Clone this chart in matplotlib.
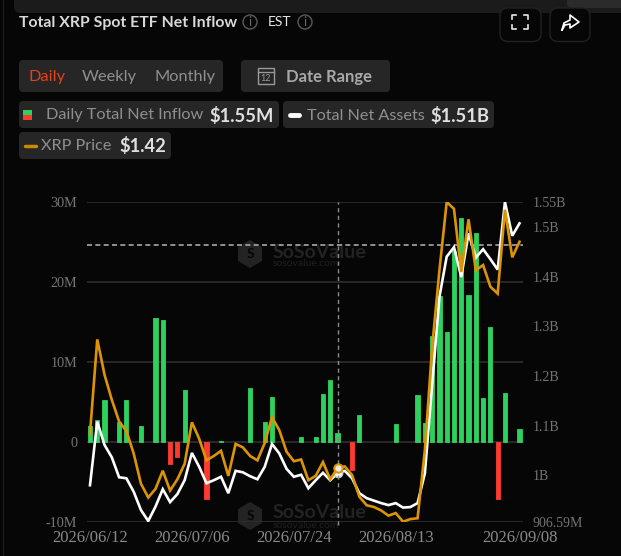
import matplotlib as mpl
mpl.use('Agg')

import matplotlib.pyplot as plt
from matplotlib.patches import FancyBboxPatch, Circle, Polygon, Rectangle

# values
flows = [2.0, 2.75, 5.25, 0, 2.5, 5.25, 0, 2.0, 0, 15.5, 15.2, -2.8, -1.85, 6.5, 0,
         0, -7.2, 0, 0.1, 0, 0, 0, 6.75, 0, 2.5, 5.6, 0, 0, 0, 0.6,
         0, 0.6, 6.0, 7.7, 1.1, 0, -3.5, 3.4, 0, 0, 0, 0, 2.25, 0, 0,
         5.8, 2.3, 13.2, 18.25, 13.75, 23.9, 28.0, 18.4, 26.1, 5.5, 14.3, -7.15, 6.1, 0, 1.55]
assets = [0.980, 1.108, 1.061, 1.036, 0.996, 0.994, 0.967, 0.930, 0.908, 0.937, 0.972, 0.946,
          0.962, 0.990, 1.045, 1.017, 0.984, 0.990, 0.997, 0.964, 1.009, 1.006, 0.998, 0.992,
          1.017, 1.063, 1.044, 1.013, 0.997, 1.001, 0.974, 0.990, 1.005, 0.990, 1.004, 1.009,
          0.994, 0.964, 0.954, 0.949, 0.944, 0.940, 0.944, 0.935, 0.936, 0.944, 1.004, 1.182,
          1.359, 1.440, 1.459, 1.399, 1.487, 1.438, 1.455, 1.435, 1.414, 1.550, 1.482, 1.507]
price = [1.202, 1.311, 1.270, 1.241, 1.216, 1.205, 1.179, 1.144, 1.128, 1.138, 1.159, 1.136,
         1.149, 1.167, 1.215, 1.196, 1.171, 1.176, 1.182, 1.153, 1.190, 1.186, 1.176, 1.171,
         1.191, 1.221, 1.206, 1.181, 1.170, 1.172, 1.148, 1.153, 1.169, 1.149, 1.162, 1.164,
         1.154, 1.129, 1.119, 1.117, 1.113, 1.107, 1.110, 1.100, 1.103, 1.104, 1.183, 1.302,
         1.391, 1.470, 1.462, 1.389, 1.450, 1.391, 1.397, 1.372, 1.364, 1.461, 1.406, 1.424]
date_ticks = [0, 14, 28, 42, 59]
date_labels = ['2026/06/12', '2026/07/06', '2026/07/24', '2026/08/13', '2026/09/08']
left_ticks = [-10, 0, 10, 20, 30]
left_labels = ['-10M', '0', '10M', '20M', '30M']
right_ticks = [0.90659, 1.0, 1.1, 1.2, 1.3, 1.4, 1.5, 1.55]
right_labels = ['906.59M', '1B', '1.1B', '1.2B', '1.3B', '1.4B', '1.5B', '1.55B']
hover_idx = 34

W, H = 621, 556
BG = '#060606'
GREEN = '#2ed15d'
RED = '#ff3b30'
ORANGE = '#dc9404'
CHIP = '#262626'
SERIF = 'Liberation Serif'
plt.rcParams['font.family'] = ['Lato', 'DejaVu Sans']

fig = plt.figure(figsize=(W / 100, H / 100), dpi=100, facecolor=BG)

# overlay in pixel coordinates for the page furniture
ui = fig.add_axes([0, 0, 1, 1], zorder=0)
ui.set_xlim(0, W)
ui.set_ylim(H, 0)
ui.axis('off')


def box(x0, y0, x1, y1, color, r=4, edge='none'):
    ui.add_patch(FancyBboxPatch((x0 + r, y0 + r), x1 - x0 - 2 * r, y1 - y0 - 2 * r,
                                boxstyle='round,pad=%d,rounding_size=%d' % (r, r),
                                fc=color, ec=edge, lw=1))


def info(x, y):
    ui.add_patch(Circle((x, y), 7, fc='none', ec='#5a5a5a', lw=1))
    ui.text(x, y, 'i', color='#6a6a6a', fontsize=9, ha='center', va='center')


ui.plot([3, 3], [0, H], color='#1a1a1a', lw=1)
box(14, -10, W + 10, 13, '#1b1b1b', r=6)
box(567, -10, W + 10, 8, '#2b2b2b', r=5)

ui.text(19, 22.5, 'Total XRP Spot ETF Net Inflow', color='#d8d8d8', fontsize=11.4, weight='bold', va='center')
info(250, 22)
ui.text(268, 22.5, 'EST', color='#e8e8e8', fontsize=10, va='center')
info(305, 22)

box(500, 8, 541, 41.5, BG, r=8, edge='#222222')
box(550, 8, 590, 41.5, BG, r=8, edge='#222222')
for sx, sy in [(-1, -1), (1, -1), (-1, 1), (1, 1)]:
    cx, cy = 520 + sx * 8, 22 + sy * 7
    ui.plot([cx - sx * 4, cx, cx], [cy, cy, cy - sy * 4], color='#e8e8e8', lw=1.2)
ui.plot([562, 564, 570, 570, 579, 570, 570, 565, 562], [30, 23, 20, 15, 22, 28, 24, 25, 30], color='white', lw=1.2)

box(19, 60, 223, 92, CHIP)
box(241, 60, 390, 92, CHIP)
ui.text(28, 77, 'Daily', color='#e2411f', fontsize=11.8, va='center')
ui.text(82, 77, 'Weekly', color='#8f8f8f', fontsize=11.8, va='center')
ui.text(154, 77, 'Monthly', color='#8f8f8f', fontsize=11.8, va='center')
ui.add_patch(Rectangle((258, 68), 16, 16, fc='none', ec='#9a9a9a', lw=1))
ui.plot([258, 274], [72, 72], color='#9a9a9a', lw=1)
ui.text(266, 78.5, '12', color='#9a9a9a', fontsize=6.5, ha='center', va='center')
ui.text(286, 77, 'Date Range', color='#a8a8a8', fontsize=12, weight='bold', va='center')

box(19, 101, 279, 128, CHIP)
box(283, 101, 494, 128, CHIP)
box(19, 132, 171, 159, CHIP)
ui.add_patch(Rectangle((23, 110), 9, 5, fc=GREEN))
ui.add_patch(Rectangle((23, 115), 9, 5, fc=RED))
ui.text(46, 115.5, 'Daily Total Net Inflow', color='#8f8f8f', fontsize=11.7, va='center')
ui.text(209, 115.5, '$1.55M', color='#e0e0e0', fontsize=13.2, weight='bold', va='center')
ui.plot([290, 299], [114.5, 114.5], color='white', lw=3.5, solid_capstyle='round')
ui.text(307, 115.5, 'Total Net Assets', color='#8f8f8f', fontsize=11.7, va='center')
ui.text(430, 115.5, '$1.51B', color='#e0e0e0', fontsize=13.2, weight='bold', va='center')
ui.plot([25, 36], [145.5, 145.5], color='#c98a08', lw=2.5, solid_capstyle='round')
ui.text(41, 146.5, 'XRP Price', color='#8f8f8f', fontsize=11.7, va='center')
ui.text(119, 146.5, '$1.42', color='#e0e0e0', fontsize=13.2, weight='bold', va='center')

# watermarks
for lx, ly, ty in [(250, 254, 252), (250, 516, 513)]:
    ui.add_patch(Polygon([(lx, ly - 14), (lx + 12, ly - 7), (lx + 12, ly + 7), (lx, ly + 14),
                          (lx - 12, ly + 7), (lx - 12, ly - 7)], fc='#232323', ec='none'))
    ui.text(lx, ly, 'S', color=BG, fontsize=10, weight='bold', ha='center', va='center')
    ui.text(273, ty, 'SoSoValue', color='#232323', fontsize=14, weight='bold', va='center')
    ui.text(273, ty + 12, 'sosovalue.com', color='#1f1f1f', fontsize=7.5, va='center')

# flows on the left scale
ax = fig.add_axes([87 / W, 1 - 521.7 / H, (523 - 87) / W, (521.7 - 202) / H], zorder=1)
ax.patch.set_alpha(0)
xs = list(range(len(flows)))
ax.set_xlim(-0.41, 59.48)
ax.set_ylim(-10, 30)
for t in left_ticks:
    ax.axhline(t, color='#2e2e2e', lw=1.2, zorder=0)
for x, v in zip(xs, flows):
    if v != 0:
        ax.bar(x, v, width=0.58, color=GREEN if v > 0 else RED, edgecolor=GREEN if v > 0 else RED,
               linewidth=0.6, zorder=2)
for s in ax.spines.values():
    s.set_visible(False)
ax.set_xticks(date_ticks, date_labels, fontfamily=SERIF, fontsize=12, color='#8a8a8a')
ax.set_yticks(left_ticks, left_labels, fontfamily=SERIF, fontsize=10.2, color='#757575')
for lab in ax.get_yticklabels():
    lab.set_verticalalignment('center_baseline')
ax.tick_params(length=0)
ax.tick_params(axis='x', pad=6)
ax.tick_params(axis='y', pad=7)

# net assets on the right scale
ax2 = ax.twinx()
ax2.set_ylim(0.90659, 1.55)
ax2.plot(xs, assets, color='white', lw=1.9, zorder=3, solid_joinstyle='miter')
ax2.set_yticks(right_ticks, right_labels, fontfamily=SERIF, fontsize=10, color='#757575')
for lab in ax2.get_yticklabels():
    lab.set_verticalalignment('center_baseline')
ax2.tick_params(length=0, pad=7)
ax2.plot(hover_idx, assets[hover_idx], 'o', ms=6, mfc='white', mec='#cccccc', mew=1, zorder=4)
for s in ax2.spines.values():
    s.set_visible(False)

# price has its own hidden scale
ax3 = ax.twinx()
ax3.set_ylim(1.10, 1.47)
ax3.plot(xs, price, color=ORANGE, lw=1.9, zorder=3, solid_joinstyle='miter')
ax3.plot(hover_idx, price[hover_idx], 'o', ms=6, mfc='#e8e8e8', mec=ORANGE, mew=1.5, zorder=4)
ax3.axis('off')

# crosshair
ax3.axvline(hover_idx, color='#8c8c8c', lw=1, ls=(0, (3, 2.5)), zorder=1, clip_on=False, ymin=-0.01)
ui.plot([87, 523], [244.7, 244.7], color='#a8a8a8', lw=1.2, ls=(0, (3, 2)), zorder=5)

fig.savefig('out.png', dpi=100, facecolor=BG)
